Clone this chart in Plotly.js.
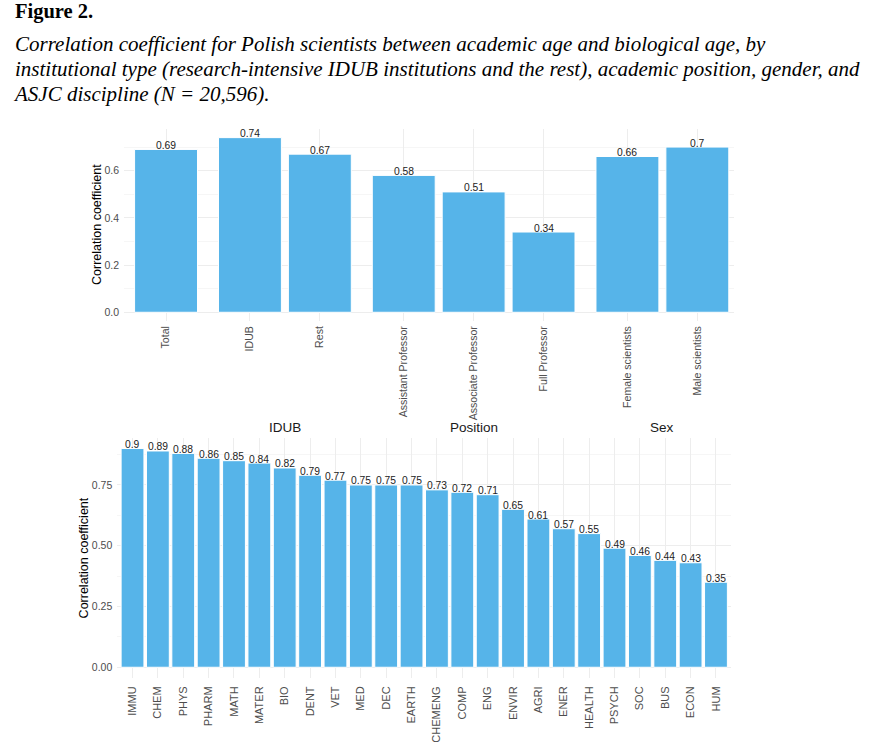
<!DOCTYPE html>
<html>
<head>
<meta charset="utf-8">
<script src="https://cdn.plot.ly/plotly-3.0.1.min.js"></script>
<style>
html,body{margin:0;padding:0;background:#fff;}
#wrap{position:relative;width:870px;height:742px;overflow:hidden;background:#fff;}
#chart{position:absolute;left:0;top:0;width:870px;height:742px;}
.hd{position:absolute;left:15px;font-family:'Liberation Serif','Times New Roman',serif;color:#000;white-space:nowrap;z-index:2;}
#fig{top:-1px;font-weight:bold;font-size:20.5px;line-height:24px;}
#cap{top:32px;font-style:italic;font-size:21px;line-height:25px;}
</style>
</head>
<body>
<div id="wrap">
<div id="chart"></div>
<div class="hd" id="fig">Figure 2.</div>
<div class="hd" id="cap">Correlation coefficient for Polish scientists between academic age and biological age, by<br>institutional type (research-intensive IDUB institutions and the rest), academic position, gender, and<br>ASJC discipline (N = 20,596).</div>
</div>
<script>
// ---- data ----
const totalCats = ['Total'];
const totalVals = [0.69];
const idubCats = ['IDUB', 'Rest'];
const idubVals = [0.74, 0.67];
const positionCats = ['Assistant Professor', 'Associate Professor', 'Full Professor'];
const positionVals = [0.58, 0.51, 0.34];
const sexCats = ['Female scientists', 'Male scientists'];
const sexVals = [0.66, 0.70];
const groupLabels = ['', 'IDUB', 'Position', 'Sex'];

const disciplines = ['IMMU','CHEM','PHYS','PHARM','MATH','MATER','BIO','DENT','VET','MED','DEC','EARTH',
  'CHEMENG','COMP','ENG','ENVIR','AGRI','ENER','HEALTH','PSYCH','SOC','BUS','ECON','HUM'];
const disciplineVals = [0.90,0.89,0.88,0.86,0.85,0.84,0.82,0.79,0.77,0.75,0.75,0.75,
  0.73,0.72,0.71,0.65,0.61,0.57,0.55,0.49,0.46,0.44,0.43,0.35];

const yTitle = 'Correlation coefficient';

// ---- style ----
const W = 870, H = 742;
const px = v => v / W;
const py = v => 1 - v / H;
const BAR = '#56B4E9';
const GRID = '#EDEDED';
const MINOR = '#F6F6F6';
const TICKC = '#4D4D4D';
const FONT = 'Liberation Sans, Arial, sans-serif';

const topEdges = [124.1, 208.0, 361.8, 585.5, 733.5];
const topY = [128.9, 321.0];
const botX = [117.3, 731.2];
const botY = [437.6, 678.2];
const unitTop = 69.9;

const fmt = v => String(+v.toFixed(2));

const topSets = [
  {cats: totalCats, vals: totalVals, ax: 'x'},
  {cats: idubCats, vals: idubVals, ax: 'x2'},
  {cats: positionCats, vals: positionVals, ax: 'x3'},
  {cats: sexCats, vals: sexVals, ax: 'x4'}
];

const traces = [];
const annotations = [];
function addBars(cats, vals, xa, ya, fs) {
  traces.push({
    type: 'bar', x: cats, y: vals, xaxis: xa, yaxis: ya,
    marker: {color: BAR, line: {color: '#ffffff', width: 1}},
    hoverinfo: 'skip', showlegend: false
  });
  cats.forEach((c, i) => {
    annotations.push({
      xref: xa, yref: ya, x: c, y: vals[i], text: fmt(vals[i]),
      xanchor: 'center', yanchor: 'bottom', yshift: -2.5, showarrow: false,
      borderpad: 0, font: {family: FONT, size: fs, color: '#222222'}
    });
  });
}
topSets.forEach(s => addBars(s.cats, s.vals, s.ax, 'y', 10.3));
addBars(disciplines, disciplineVals, 'x5', 'y2', 10.3);

const xBase = {
  type: 'category', showgrid: true, gridcolor: GRID, gridwidth: 1,
  zeroline: false, showline: false, ticks: '', tickangle: -90,
  ticklabelstandoff: 2,
  tickfont: {family: FONT, size: 10.6, color: TICKC}, fixedrange: true
};

const layout = {
  width: W, height: H,
  margin: {l: 0, r: 0, t: 0, b: 0},
  paper_bgcolor: '#ffffff', plot_bgcolor: '#ffffff',
  font: {family: FONT},
  bargap: 0.1,
  showlegend: false,
  yaxis: {
    domain: [py(topY[1]), py(topY[0])], anchor: 'x',
    range: [-0.037, 0.777], dtick: 0.2, tick0: 0, tickformat: '.1f',
    showgrid: true, gridcolor: GRID, zeroline: false, showline: false, ticks: '',
    ticklabelstandoff: 4,
    tickfont: {family: FONT, size: 10.5, color: TICKC},
    minor: {dtick: 0.1, tick0: 0, showgrid: true, gridcolor: MINOR, gridwidth: 1, ticks: ''}
  },
  yaxis2: {
    domain: [py(botY[1]), py(botY[0])], anchor: 'x5',
    range: [-0.045, 0.945], dtick: 0.25, tick0: 0, tickformat: '.2f',
    showgrid: true, gridcolor: GRID, zeroline: false, showline: false, ticks: '',
    ticklabelstandoff: 4,
    tickfont: {family: FONT, size: 10.5, color: TICKC},
    minor: {dtick: 0.125, tick0: 0, showgrid: true, gridcolor: MINOR, gridwidth: 1, ticks: ''}
  },
  annotations: annotations
};

topSets.forEach((s, i) => {
  const key = i === 0 ? 'xaxis' : 'xaxis' + (i + 1);
  const widthUnits = (topEdges[i + 1] - topEdges[i]) / unitTop;
  layout[key] = Object.assign({}, xBase, {
    domain: [px(topEdges[i]), px(topEdges[i + 1])], anchor: 'y',
    range: [-0.6, widthUnits - 0.6]
  });
  if (groupLabels[i]) {
    annotations.push({
      text: groupLabels[i], xref: 'paper', yref: 'paper',
      x: px(topEdges[i] + (0.6 + (s.cats.length - 1) / 2) * unitTop), y: py(427),
      xanchor: 'center', yanchor: 'middle', showarrow: false,
      font: {family: FONT, size: 13.5, color: '#1A1A1A'}
    });
  }
});
layout.xaxis5 = Object.assign({}, xBase, {
  domain: [px(botX[0]), px(botX[1])], anchor: 'y2',
  range: [-0.6, disciplines.length - 0.4],
  ticklabelstandoff: 5,
  tickfont: {family: FONT, size: 11, color: TICKC}
});

annotations.push({
  text: yTitle, textangle: -90, xref: 'paper', yref: 'paper',
  x: px(97), y: py((topY[0] + topY[1]) / 2), xanchor: 'center', yanchor: 'middle',
  showarrow: false, font: {family: FONT, size: 12.5, color: '#000000'}
});
annotations.push({
  text: yTitle, textangle: -90, xref: 'paper', yref: 'paper',
  x: px(83.5), y: py((botY[0] + botY[1]) / 2), xanchor: 'center', yanchor: 'middle',
  showarrow: false, font: {family: FONT, size: 12.5, color: '#000000'}
});

Plotly.newPlot('chart', traces, layout, {displayModeBar: false, staticPlot: true});
</script>
</body>
</html>
